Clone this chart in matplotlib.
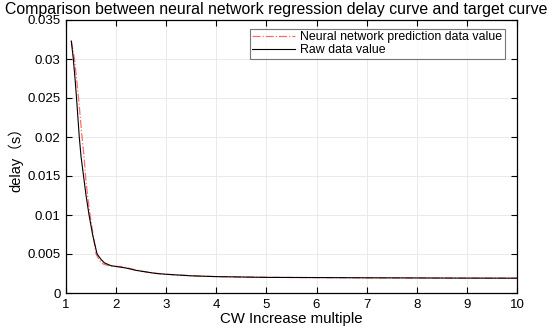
import matplotlib
matplotlib.use("Agg")
import matplotlib.pyplot as plt

# raw data (black solid)
raw_x = [1.106, 1.146, 1.18, 1.21, 1.265, 1.30, 1.35, 1.40, 1.46, 1.53, 1.62,
         1.70, 1.77, 1.9, 2.0, 2.2, 2.4, 2.6, 2.8, 3.0, 3.5, 4.0, 4.5, 5.0,
         6.0, 7.0, 8.0, 9.0, 10.0]
raw_y = [0.0323, 0.0300, 0.0275, 0.0250, 0.0200, 0.0175, 0.0150, 0.0125,
         0.0100, 0.0075, 0.0050, 0.0043, 0.00385, 0.0035, 0.0034, 0.0032,
         0.0029, 0.0027, 0.0025, 0.0024, 0.0022, 0.0021, 0.00205, 0.0020,
         0.00198, 0.00195, 0.00193, 0.00191, 0.0019]

# neural network prediction (red dash-dot)
nn_x = [1.106, 1.17, 1.25, 1.32, 1.36, 1.39, 1.43, 1.48, 1.54, 1.6, 1.65,
        1.69, 1.75, 1.8, 1.9, 2.0, 2.1, 2.3, 2.5, 2.7, 3.0, 3.5, 4.0, 4.5,
        5.0, 5.5, 6.0, 6.5, 7.0, 7.5, 8.0, 8.5, 9.0, 9.5, 10.0]
nn_y = [0.0323, 0.0300, 0.0250, 0.0200, 0.0175, 0.0150, 0.0125, 0.0100,
        0.0075, 0.0050, 0.0044, 0.0040, 0.0037, 0.0036, 0.00345, 0.0034,
        0.0034, 0.0031, 0.0028, 0.0026, 0.0024, 0.00222, 0.0021, 0.00206,
        0.00202, 0.00199, 0.00197, 0.00196, 0.00194, 0.00193, 0.00192,
        0.00191, 0.0019, 0.0019, 0.0019]

x_ticks = [1, 2, 3, 4, 5, 6, 7, 8, 9, 10]
y_ticks = [0, 0.005, 0.01, 0.015, 0.02, 0.025, 0.03, 0.035]
y_ticklabels = ['0', '0.005', '0.01', '0.015', '0.02', '0.025', '0.03', '0.035']

plt.rcParams['font.family'] = ['Liberation Sans', 'Noto Sans CJK SC', 'DejaVu Sans']

fig = plt.figure(figsize=(5.52, 3.31), dpi=100)
ax = fig.add_axes([66/552, 1 - 293/331, 451/552, 273/331])

ax.plot(nn_x, nn_y, color='#ff6b6b', linestyle='-.', linewidth=0.9,
        label='Neural network prediction data value')
ax.plot(raw_x, raw_y, color='black', linewidth=0.8, label='Raw data value')

ax.set_xlim(1, 10)
ax.set_ylim(0, 0.035)
ax.set_xticks(x_ticks)
ax.set_yticks(y_ticks)
ax.set_yticklabels(y_ticklabels)
ax.tick_params(direction='in', top=True, right=True, labelsize=9.5,
               length=4, width=0.8, colors='black', pad=4)
ax.grid(True, color='#e6e6e6', linewidth=0.6)
ax.set_axisbelow(True)
for s in ax.spines.values():
    s.set_linewidth(0.9)

ax.set_xlabel('CW Increase multiple', fontsize=10.8, labelpad=1)
ax.set_ylabel('delay（s）', fontsize=10.5, labelpad=3)
fig.text(0.5, 0.972, 'Comparison between neural network regression delay curve and target curve',
         ha='center', va='center', fontsize=11.4)

leg = ax.legend(loc='upper right', bbox_to_anchor=(0.973, 0.967), fontsize=8.9,
                frameon=True, fancybox=False, edgecolor='#555555',
                borderpad=0.2, handlelength=3.5, handletextpad=0.4,
                labelspacing=0.05, borderaxespad=0)
leg.get_frame().set_linewidth(0.8)

fig.savefig('out.png', dpi=100)
